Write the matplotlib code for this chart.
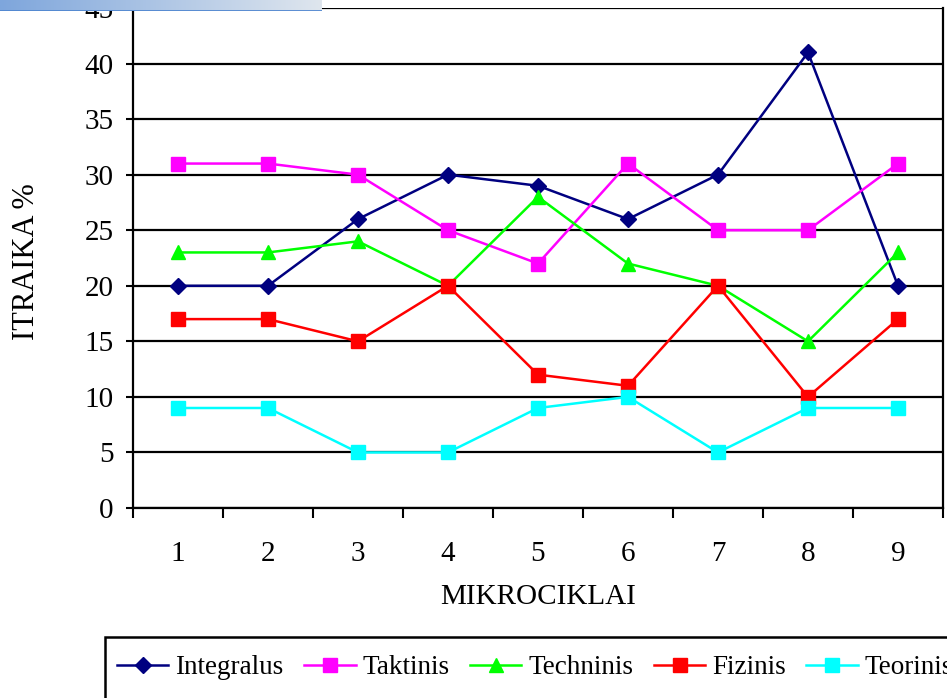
import numpy as np
import matplotlib.pyplot as plt
from matplotlib.colors import LinearSegmentedColormap
from matplotlib.patches import Rectangle

plt.rcParams['font.family'] = ['Liberation Serif', 'DejaVu Serif']

mikrociklai = [1, 2, 3, 4, 5, 6, 7, 8, 9]
integralus = [20, 20, 26, 30, 29, 26, 30, 41, 20]
taktinis = [31, 31, 30, 25, 22, 31, 25, 25, 31]
techninis = [23, 23, 24, 20, 28, 22, 20, 15, 23]
fizinis = [17, 17, 15, 20, 12, 11, 20, 10, 17]
teorinis = [9, 9, 5, 5, 9, 10, 5, 9, 9]

series = [
    ("Integralus", integralus, "#000080", "D", 8),
    ("Taktinis", taktinis, "#FF00FF", "s", 9.5),
    ("Techninis", techninis, "#00FF00", "^", 10),
    ("Fizinis", fizinis, "#FF0000", "s", 10),
    ("Teorinis", teorinis, "#00FFFF", "s", 10),
]

AX_FS = 21
LEG_FS = 19.5

fig = plt.figure(figsize=(9.47, 6.98), dpi=100)
ax = fig.add_axes([133 / 947, 1 - 508 / 698, 810 / 947, 500 / 698])

for name, vals, color, marker, ms in series:
    ax.plot(mikrociklai, vals, color=color, linewidth=1.8, marker=marker,
            markersize=ms, markerfacecolor=color, markeredgecolor=color,
            label=name, clip_on=False, zorder=3)

ax.set_xlim(0.5, 9.5)
ax.set_ylim(0, 45)
ax.set_yticks(np.arange(0, 46, 5))
ax.yaxis.grid(True, color="black", linewidth=1.6)
ax.set_axisbelow(True)

# category labels centred, tick marks between categories
ax.set_xticks(mikrociklai)
ax.set_xticklabels([str(m) for m in mikrociklai])
ax.set_xticks(np.arange(0.5, 9.6, 1), minor=True)
ax.tick_params(axis="x", which="major", length=0, pad=24, labelsize=AX_FS)
ax.tick_params(axis="x", which="minor", length=7, width=1.5, direction="out")
ax.tick_params(axis="y", length=5, width=1.5, labelsize=AX_FS, pad=9)

for side in ["left", "right", "top", "bottom"]:
    ax.spines[side].set_linewidth(1.6)
ax.spines["top"].set_visible(False)

ax.set_xlabel("MIKROCIKLAI", fontsize=AX_FS, labelpad=12)
fig.text(27 / 947, 1 - 262 / 698, "ITRAIKA %", rotation=90, fontsize=AX_FS + 1,
         ha="center", va="center")

# legend box running off the right edge
fig.patches.append(Rectangle((105 / 947, -0.05), 0.9, 0.05 + 1 - 637 / 698,
                             transform=fig.transFigure, fill=False,
                             edgecolor="black", linewidth=1.8))
handles, labels = ax.get_legend_handles_labels()
fig.legend(handles, labels, loc="center left",
           bbox_to_anchor=(117 / 947, 1 - 668 / 698), ncol=5, frameon=False,
           fontsize=LEG_FS, handlelength=1.9, handletextpad=0.26,
           columnspacing=0.75, borderpad=0, borderaxespad=0)

# gradient strip along the top-left edge
bar = fig.add_axes([0, 1 - 11 / 698, 322 / 947, 11 / 698], zorder=10)
grad = np.linspace(0, 1, 256).reshape(1, -1)
bar.imshow(grad, aspect="auto",
           cmap=LinearSegmentedColormap.from_list("strip", ["#7ea6dc", "#dfe6ee"]))
bar.axhline(0.5, color="#4f86d0", linewidth=2)
bar.set_axis_off()

fig.savefig("out.png", dpi=100)
